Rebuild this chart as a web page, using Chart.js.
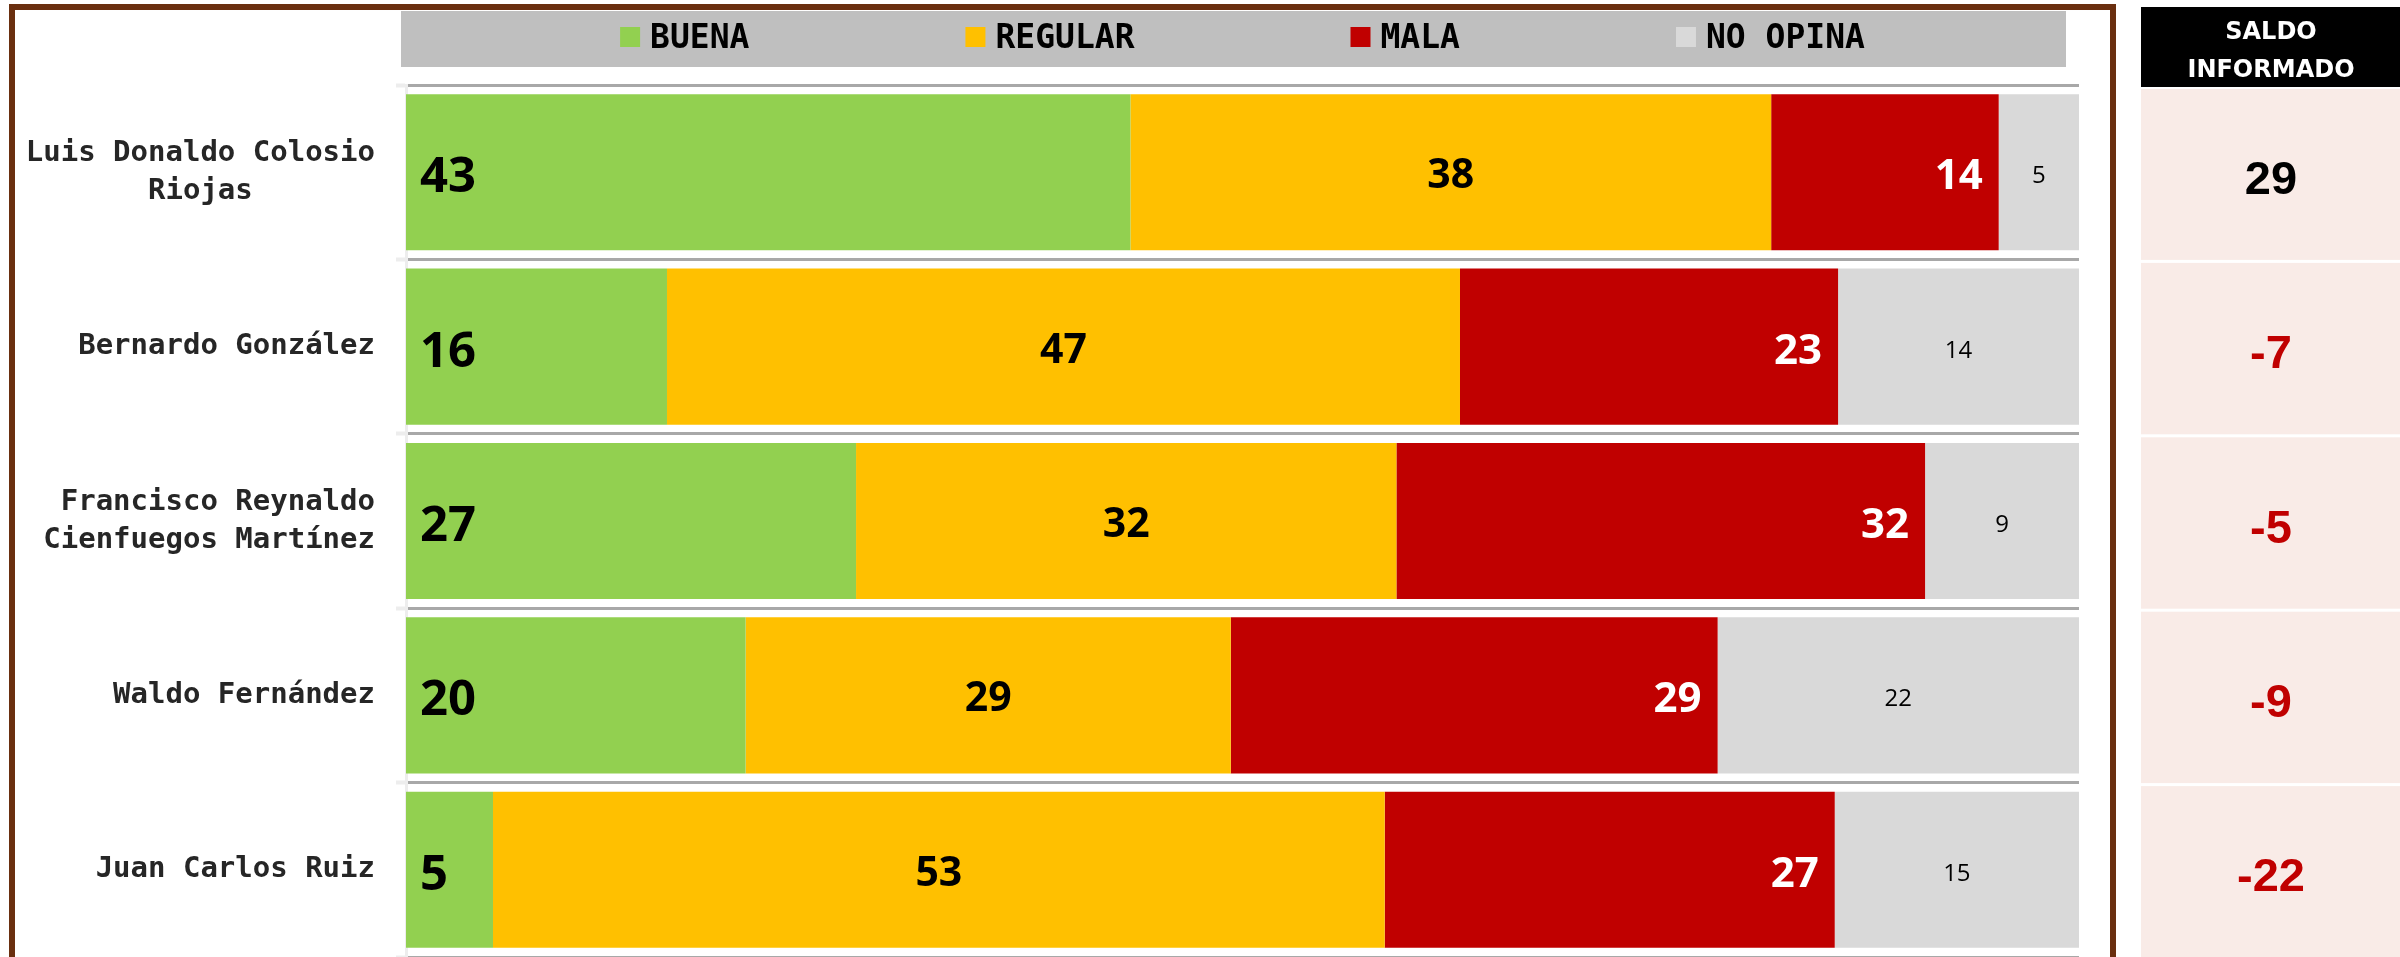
<!DOCTYPE html>
<html lang="es">
<head>
<meta charset="utf-8">
<title>Evaluación de desempeño</title>
<script src="https://cdn.jsdelivr.net/npm/chart.js@4.4.1/dist/chart.umd.min.js"></script>
<style>
  html, body { margin: 0; padding: 0; background: #ffffff; }
  #grafica { display: block; }
</style>
</head>
<body>
<canvas id="grafica" width="2400" height="957"></canvas>
<script>
// Nombres de cada persona evaluada (los que van en dos renglones son arreglos).
const nombres = [
  ["Luis Donaldo Colosio", "Riojas"],
  "Bernardo González",
  ["Francisco Reynaldo", "Cienfuegos Martínez"],
  "Waldo Fernández",
  "Juan Carlos Ruiz"
];

const buena   = [43.3, 15.6, 26.9, 20.3, 5.2];
const regular = [38.3, 47.4, 32.3, 29.0, 53.3];
const mala    = [13.6, 22.6, 31.6, 29.1, 26.9];
const noOpina = [4.8, 14.4, 9.2, 21.6, 14.6];

// Saldo informado que aparece en la columna de la derecha.
const saldo = [29, -7, -5, -9, -22];

// Nombres y colores de las series.
const series = ["BUENA", "REGULAR", "MALA", "NO OPINA"];
const colores = ["#92D050", "#FFC000", "#C00000", "#D9D9D9"];

// Estilo de la etiqueta de valor de cada serie.
const estiloValores = [
  { font: "bold 49px 'Open Sans'", color: "#000000", align: "left", margen: 14, bajada: 20 },
  { font: "bold 41px 'Open Sans'", color: "#000000", align: "center", margen: 0, bajada: 16 },
  { font: "bold 42px 'Open Sans'", color: "#FFFFFF", align: "right", margen: 16, bajada: 17 },
  { font: "24px 'Open Sans'", color: "#000000", align: "center", margen: 0, bajada: 11 }
];

// Dibuja el número dentro de cada barra.
const etiquetasPlugin = {
  id: "etiquetas",
  afterDatasetsDraw(chart) {
    const ctx = chart.ctx;
    chart.data.datasets.forEach((ds, i) => {
      const est = estiloValores[i];
      chart.getDatasetMeta(i).data.forEach((barra, j) => {
        const izq = Math.min(barra.base, barra.x);
        const der = Math.max(barra.base, barra.x);
        let x = (izq + der) / 2;
        if (est.align === "left") x = izq + est.margen;
        if (est.align === "right") x = der - est.margen;
        ctx.save();
        ctx.font = est.font;
        ctx.fillStyle = est.color;
        ctx.textAlign = est.align;
        ctx.textBaseline = "alphabetic";
        ctx.fillText(String(Math.round(ds.data[j])), x, barra.y + est.bajada);
        ctx.restore();
      });
    });
  }
};

// Leyenda sobre una franja gris, centrada sobre el área de barras.
const leyendaPlugin = {
  id: "leyenda",
  beforeDraw(chart) {
    const ctx = chart.ctx;
    const area = chart.chartArea;
    ctx.save();
    ctx.fillStyle = "#BFBFBF";
    ctx.fillRect(401, 11, 2066 - 401, 56);

    ctx.font = "bold 33px 'DejaVu Sans Mono'";
    const cuadro = 20, sep = 10, hueco = 216;
    const anchos = chart.data.datasets.map(ds => cuadro + sep + ctx.measureText(ds.label).width);
    const total = anchos.reduce((a, b) => a + b, 0) + hueco * (anchos.length - 1);
    let x = (area.left + area.right) / 2 - total / 2;

    chart.data.datasets.forEach((ds, i) => {
      ctx.fillStyle = ds.backgroundColor;
      ctx.fillRect(x, 27, cuadro, cuadro);
      ctx.fillStyle = "#000000";
      ctx.textAlign = "left";
      ctx.textBaseline = "alphabetic";
      ctx.fillText(ds.label, x + cuadro + sep, 48);
      x += anchos[i] + hueco;
    });
    ctx.restore();
  }
};

// Columna derecha con el saldo informado y el marco café.
const saldoPlugin = {
  id: "saldo",
  afterDraw(chart) {
    const ctx = chart.ctx;
    const escalaY = chart.scales.y;
    const paso = escalaY.getPixelForValue(1) - escalaY.getPixelForValue(0);
    const izq = 2141, ancho = 2400 - 2141, centroX = 2271;

    ctx.save();
    // encabezado
    ctx.fillStyle = "#000000";
    ctx.fillRect(izq, 7, ancho, 80);
    ctx.fillStyle = "#FFFFFF";
    ctx.font = "bold 24px 'DejaVu Sans'";
    ctx.textAlign = "center";
    ctx.textBaseline = "alphabetic";
    ctx.fillText("SALDO", centroX, 39);
    ctx.fillText("INFORMADO", centroX, 77);

    // celdas rosas con el valor
    saldo.forEach((v, j) => {
      const centro = escalaY.getPixelForValue(j);
      const arriba = j === 0 ? 89 : centro - paso / 2 + 3.5;
      const abajo = centro + paso / 2 + 0.5;
      ctx.fillStyle = "#F9EBE7";
      ctx.fillRect(izq, arriba, ancho, abajo - arriba);
      ctx.fillStyle = v < 0 ? "#C00000" : "#000000";
      ctx.font = "bold 47px 'Liberation Sans'";
      ctx.fillText(String(v), centroX, centro + 21.5);
    });

    // marco café alrededor de la gráfica
    ctx.strokeStyle = "#6A2F0F";
    ctx.lineWidth = 6;
    ctx.strokeRect(12, 7, 2101, 1000);
    ctx.restore();
  }
};

const valores = [buena, regular, mala, noOpina];

new Chart(document.getElementById("grafica"), {
  type: "bar",
  data: {
    labels: nombres,
    datasets: series.map((nombre, i) => ({
      label: nombre,
      data: valores[i],
      backgroundColor: colores[i],
      borderWidth: 0,
      barPercentage: 0.895,
      categoryPercentage: 1.0
    }))
  },
  options: {
    indexAxis: "y",
    responsive: false,
    animation: false,
    devicePixelRatio: 1,
    layout: { padding: { top: 85, right: 321, bottom: 0, left: 0 } },
    plugins: {
      legend: { display: false },
      tooltip: { enabled: false }
    },
    scales: {
      x: { stacked: true, min: 0, max: 100, display: false },
      y: {
        stacked: true,
        grid: { offset: true, color: "#A8A8A8", lineWidth: 3, tickColor: "#EDEDED", tickLength: 10, tickWidth: 4 },
        border: { color: "#EDEDED", width: 3 },
        ticks: {
          color: "#262626",
          padding: 21,
          font: { family: "'DejaVu Sans Mono'", weight: "bold", size: 29, lineHeight: 1.31 },
          // centra el renglón corto bajo el largo, rellenando con espacios
          callback: function (valor) {
            const nombre = this.getLabelForValue(valor);
            if (!Array.isArray(nombre)) return nombre;
            const largo = Math.max(...nombre.map(l => l.length));
            return nombre.map(l => l + " ".repeat(Math.floor((largo - l.length) / 2)));
          }
        },
        // ancho fijo del eje y sin relleno extra arriba/abajo
        afterFit: (escala) => {
          escala.width = 406;
          escala.paddingTop = 0;
          escala.paddingBottom = 0;
        }
      }
    }
  },
  plugins: [leyendaPlugin, etiquetasPlugin, saldoPlugin]
});
</script>
</body>
</html>
